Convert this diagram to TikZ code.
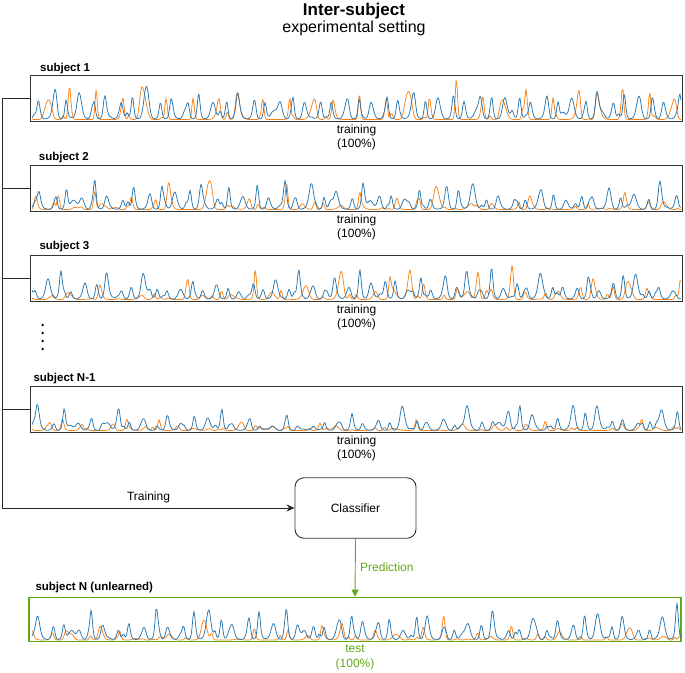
\documentclass[tikz,border=0pt]{standalone}
\usepackage{fontspec}
\setmainfont{Liberation Sans}
\usetikzlibrary{arrows.meta,positioning,calc}
\definecolor{cblue}{RGB}{40,118,175}
\definecolor{corange}{RGB}{250,130,20}
\definecolor{cgreen}{RGB}{96,169,23}
\definecolor{cframe}{RGB}{51,51,51}
\tikzset{
  declare function={
    hsh(\k)=frac(abs(437.585*sin(78.233*\k)));
    phs(\x,\p,\o)=\x/\p+0.12*sin(11*\x+\o);
    pk(\x,\p,\o)=exp(-0.0095*\p*\p*(1-cos(360*frac(phs(\x,\p,\o)))));
  },
  sigbox/.style={draw=cframe, line width=0.9pt, minimum width=652pt, minimum height=46pt, inner sep=0pt},
  lbl/.style={font=\fontsize{11.5}{13}\selectfont\bfseries, anchor=base west, inner sep=0pt},
  pct/.style={font=\fontsize{12}{14.5}\selectfont, align=center, anchor=north, inner sep=0pt},
  wire/.style={line width=0.9pt, black!85},
}
% color, bottom, period, offset, amplitude, min fraction
\newcommand{\trace}[6]{%
  \draw[#1, line width=0.75pt, line join=round] plot[domain=32:681, samples=650]
    (\x, {#2-2-#5*(#6+(1-#6)*hsh(floor(phs(\x,#3,#4)+0.5)+#4)^2)*pk(\x,#3,#4)
          -0.3*#5*hsh(floor(phs(\x,1.37*#3,#4+50)+0.5)+#4+3)*pk(\x,1.37*#3,#4+50)});
}

\begin{document}
\begin{tikzpicture}[x=1pt, y=-1pt]
  \useasboundingbox (0,0) rectangle (685,672);
  \node[font=\fontsize{17}{20}\selectfont\bfseries, anchor=base] (ttl) at (354,15) {Inter-subject};
  \node[font=\fontsize{16}{19}\selectfont, anchor=base] (subt) at (354,32) {experimental setting};

  % training subjects
  \node[sigbox] (s1) at (356.5,98.5) {};
  \node[sigbox] (s2) at (356.5,188.5) {};
  \node[sigbox] (s3) at (356.5,278.5) {};
  \node[sigbox] (s4) at (356.5,409.5) {};
  \node[lbl] (l1) at (40,71) {subject 1};
  \node[lbl] (l2) at (38.7,160) {subject 2};
  \node[lbl] (l3) at (39.3,249.5) {subject 3};
  \node[lbl] (l4) at (33.3,381) {subject N-1};
  \foreach \n in {1,...,4}
    \node[pct] (t\n) at ($(s\n.south)+(0,2.5)$) {training\\(100\%)};

  \trace{corange}{121.5}{24}{17}{36}{0.55}
  \trace{cblue}{121.5}{13.3}{5}{28}{0.6}
  \trace{corange}{211.5}{19}{41}{30}{0}
  \trace{cblue}{211.5}{13.5}{29}{31}{0.3}
  \trace{corange}{301.5}{17}{63}{32}{0}
  \trace{cblue}{301.5}{12}{11}{31}{0.25}
  \trace{corange}{432.5}{16}{83}{12}{0}
  \trace{cblue}{432.5}{13}{47}{27}{0.15}

  \foreach \yy in {325,333,341,349}
    \fill (42.7,\yy) circle (1.3pt);

  % classifier
  \node[draw=cframe, line width=0.9pt, rounded corners=9pt, minimum width=121pt, minimum height=60.5pt,
        font=\fontsize{12}{14}\selectfont] (clf) at (355.5,508) {Classifier};
  \coordinate (rail) at (2.5,0);
  \draw[wire, -{Stealth[length=8pt,width=7pt]}] (s1.west) -- (s1.west -| rail) |- (clf.west)
    node[pos=0.75, above=5pt, inner sep=0pt, font=\fontsize{12}{14}\selectfont, black] (trn) {Training};
  \foreach \n in {2,3,4}
    \draw[wire] (s\n.west) -- (s\n.west -| rail);

  % test subject
  \node[sigbox, draw=cgreen, line width=1.2pt, minimum height=44.5pt] (sN) at (355,619.5) {};
  \node[lbl] (lN) at (35.3,590.7) {subject N (unlearned)};
  \node[pct, text=cgreen] (tN) at ($(sN.south)+(0,2.5)$) {test\\(100\%)};
  \trace{corange}{642}{17}{97}{22}{0}
  \trace{cblue}{642}{13}{71}{32}{0.3}
  \draw[cgreen, line width=0.9pt, -{Triangle[length=7pt,width=7pt]}] (clf.south) -- (sN.north)
    node[midway, right=4.5pt, inner sep=0pt, font=\fontsize{12}{14}\selectfont] (prd) {Prediction};
\end{tikzpicture}
\end{document}
